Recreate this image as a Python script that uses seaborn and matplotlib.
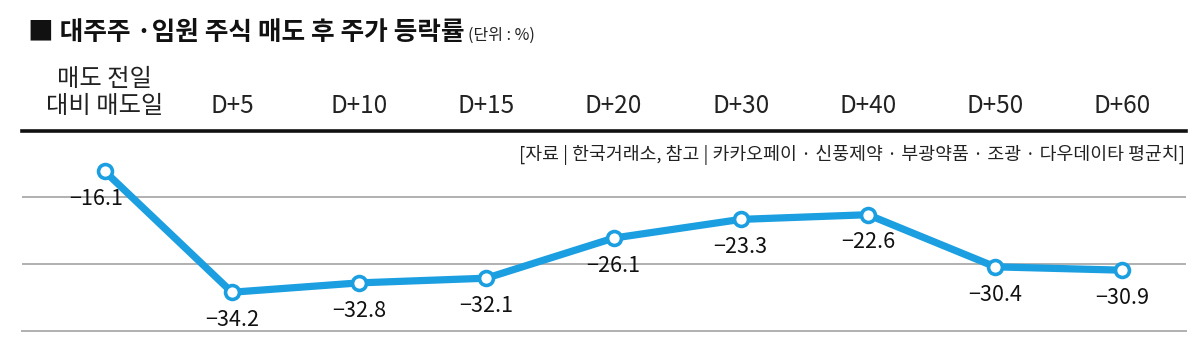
import matplotlib
matplotlib.use('Agg')
import pandas as pd
import matplotlib.pyplot as plt
import seaborn as sns

# Data
categories = ['매도 전일\n대비 매도일', 'D+5', 'D+10', 'D+15', 'D+20', 'D+30', 'D+40', 'D+50', 'D+60']
returns = [-16.1, -34.2, -32.8, -32.1, -26.1, -23.3, -22.6, -30.4, -30.9]
label_texts = ['−16.1', '−34.2', '−32.8', '−32.1', '−26.1', '−23.3', '−22.6', '−30.4', '−30.9']

title = '■ 대주주 ·임원 주식 매도 후 주가 등락률'
unit = '(단위 : %)'
source = '[자료 | 한국거래소, 참고 | 카카오페이 · 신풍제약 · 부광약품 · 조광 · 다우데이타 평균치]'

blue = '#1b9fe0'

sns.set_style('white')
plt.rcParams['font.family'] = ['Noto Sans CJK KR', 'DejaVu Sans']
plt.rcParams['axes.unicode_minus'] = True

df = pd.DataFrame({'pos': range(len(categories)), 'value': returns})

fig = plt.figure(figsize=(12, 3.53), dpi=100)
ax = fig.add_axes([22 / 1200, 1 - 331 / 353, (1186 - 22) / 1200, (331 - 130.5) / 353])

sns.lineplot(data=df, x='pos', y='value', ax=ax, color=blue, linewidth=5.2,
             marker='o', markersize=10, markerfacecolor='white',
             markeredgecolor=blue, markeredgewidth=2.6, clip_on=False, zorder=5)

ax.set_xlim(-0.65, 8.5)
ax.set_ylim(-40, -10)

# grid
ax.set_yticks([-20, -30])
ax.yaxis.grid(True, color='#b0b0b0', linewidth=1.4)
ax.tick_params(axis='y', left=False, labelleft=False)
for side in ['left', 'right']:
    ax.spines[side].set_visible(False)
ax.spines['top'].set_color('#111111')
ax.spines['top'].set_linewidth(2.6)
ax.spines['bottom'].set_color('#b0b0b0')
ax.spines['bottom'].set_linewidth(1.4)

# category labels on top
ax.xaxis.tick_top()
ax.set_xticks(range(len(categories)))
ax.set_xticklabels(categories, fontsize=17.5, color='#222222', linespacing=1.05)
ax.tick_params(axis='x', top=False, bottom=False, pad=5)
ax.set_xlabel('')
ax.set_ylabel('')

# value labels
for i, (v, t) in enumerate(zip(returns, label_texts)):
    dx = -6 if i == 0 else 0
    ax.annotate(t, (i, v), xytext=(dx, -20), textcoords='offset points',
                ha='center', va='center', fontsize=15.5, color='#111111')

# title, unit and source
fig.text(28 / 1200, 1 - 33 / 353, title, fontsize=18.5, fontweight='bold',
         va='center', ha='left', color='#111111')
fig.text(468 / 1200, 1 - 35 / 353, unit, fontsize=11.5,
         va='center', ha='left', color='#222222')
fig.text(1185 / 1200, 1 - 155 / 353, source, fontsize=13.2,
         va='center', ha='right', color='#222222')

fig.savefig('out.png', dpi=100)
